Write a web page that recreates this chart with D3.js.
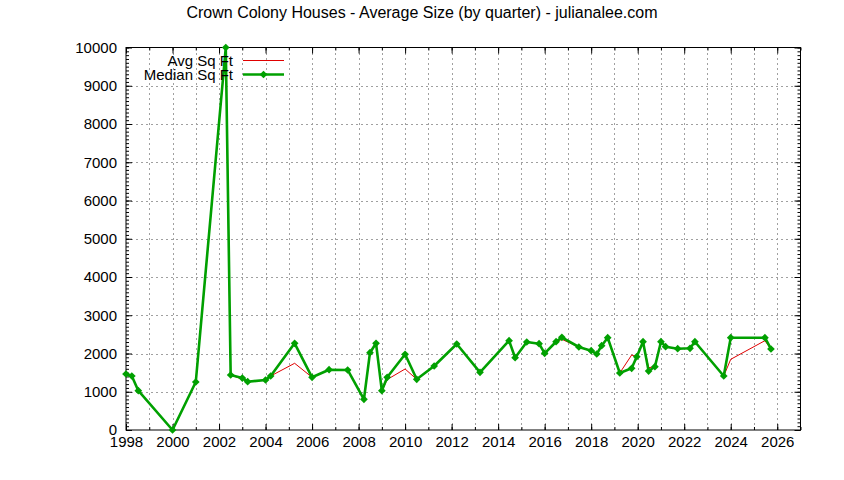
<!DOCTYPE html>
<html>
<head>
<meta charset="utf-8">
<script src="https://cdn.jsdelivr.net/npm/d3@7"></script>
<style>
    body { margin: 0; background: #fff; }
    svg { display: block; font-family: "Liberation Sans", Arial, sans-serif; }
</style>
</head>
<body>
<div id="chart"></div>
<script>
const quarters = [
    1998.0, 1998.25, 1998.53, 2000.0, 2001.0, 2002.29, 2002.5, 2003.0, 2003.23, 2004.0,
    2004.22, 2005.25, 2006.0, 2006.73, 2007.53, 2008.23, 2008.49, 2008.75, 2009.0, 2009.23,
    2010.0, 2010.5, 2011.25, 2012.22, 2013.22, 2014.47, 2014.73, 2015.23, 2015.76, 2016.0,
    2016.49, 2016.74, 2017.47, 2018.0, 2018.24, 2018.45, 2018.71, 2019.23, 2019.74, 2019.96,
    2020.23, 2020.47, 2020.74, 2021.0, 2021.2, 2021.72, 2022.25, 2022.46, 2023.7, 2024.0,
    2025.47, 2025.73
];
const medianSqft = [
    1464, 1412, 1027, 0, 1255, 10000, 1438, 1359, 1263, 1307,
    1412, 2267, 1378, 1576, 1569, 803, 2021, 2267, 1027, 1378,
    1979, 1325, 1673, 2248, 1508, 2335, 1890, 2301, 2256, 2005,
    2308, 2424, 2170, 2073, 1987, 2204, 2413, 1490, 1613, 1916,
    2308, 1542, 1655, 2308, 2178, 2125, 2136, 2308, 1412, 2413,
    2413, 2118
];
const avgSqft = [
    1464, 1412, 1027, 0, 1255, 10000, 1438, 1330, 1263, 1307,
    1412, 1744, 1378, 1576, 1569, 803, 2000, 2267, 1027, 1320,
    1595, 1325, 1660, 2248, 1508, 2335, 1890, 2301, 2256, 2005,
    2308, 2370, 2170, 2073, 1987, 2204, 2413, 1490, 1960, 1916,
    2308, 1629, 1655, 2308, 2178, 2125, 2136, 2308, 1412, 1848,
    2335, 2118
];
const xMajorTicks = [1998, 2000, 2002, 2004, 2006, 2008, 2010, 2012, 2014, 2016, 2018, 2020, 2022, 2024, 2026];
const xMinorTicks = d3.range(1998, 2028, 1);
const yMajorTicks = [0, 1000, 2000, 3000, 4000, 5000, 6000, 7000, 8000, 9000, 10000];
const yMinorTicks = d3.range(0, 10001, 100);

const width = 844, height = 480;
const margin = { top: 47.5, right: 43.5, bottom: 50, left: 126 };

const svg = d3.select("#chart").append("svg")
    .attr("width", width)
    .attr("height", height);

const x = d3.scaleLinear()
    .domain([1998, 2027])
    .range([margin.left, width - margin.right]);

const y = d3.scaleLinear()
    .domain([0, 10000])
    .range([height - margin.bottom, margin.top]);

// title
svg.append("text")
    .attr("x", width / 2)
    .attr("y", 18)
    .attr("text-anchor", "middle")
    .attr("font-size", "16px")
    .text("Crown Colony Houses - Average Size (by quarter) - julianalee.com");

// grid (vertical every year, horizontal every 1000)
const grid = svg.append("g")
    .attr("stroke", "#a0a0a0")
    .attr("stroke-width", 1)
    .attr("stroke-dasharray", "2,3");

grid.selectAll(".vg")
    .data(xMinorTicks.filter(d => d > 1998 && d < 2027))
    .enter().append("line")
    .attr("x1", d => Math.round(x(d)) + 0.5)
    .attr("x2", d => Math.round(x(d)) + 0.5)
    .attr("y1", y(0))
    .attr("y2", y(10000));

grid.selectAll(".hg")
    .data(yMajorTicks.filter(d => d > 0 && d < 10000))
    .enter().append("line")
    .attr("x1", x(1998))
    .attr("x2", x(2027))
    .attr("y1", d => Math.round(y(d)) + 0.5)
    .attr("y2", d => Math.round(y(d)) + 0.5);

// axes with inward ticks
function styleAxis(g) {
    g.selectAll(".domain").remove();
    g.selectAll("line").attr("stroke", "#000");
    g.selectAll("text").attr("font-size", "15px").attr("fill", "#000")
        .attr("font-family", "Liberation Sans, Arial, sans-serif");
}

svg.append("g")
    .attr("transform", `translate(0,${y(0)})`)
    .call(d3.axisBottom(x).tickValues(xMinorTicks).tickSize(-3).tickFormat(""))
    .call(styleAxis);
svg.append("g")
    .attr("transform", `translate(0,${y(0)})`)
    .call(d3.axisBottom(x).tickValues(xMajorTicks).tickSize(-6).tickPadding(6).tickFormat(d3.format("d")))
    .call(styleAxis);

svg.append("g")
    .attr("transform", `translate(0,${y(10000)})`)
    .call(d3.axisTop(x).tickValues(xMinorTicks).tickSize(-3).tickFormat(""))
    .call(styleAxis);
svg.append("g")
    .attr("transform", `translate(0,${y(10000)})`)
    .call(d3.axisTop(x).tickValues(xMajorTicks).tickSize(-6).tickFormat(""))
    .call(styleAxis);

svg.append("g")
    .attr("transform", `translate(${x(1998)},0)`)
    .call(d3.axisLeft(y).tickValues(yMinorTicks).tickSize(-3).tickFormat(""))
    .call(styleAxis);
svg.append("g")
    .attr("transform", `translate(${x(1998)},0)`)
    .call(d3.axisLeft(y).tickValues(yMajorTicks).tickSize(-6).tickPadding(9).tickFormat(d3.format("d")))
    .call(styleAxis);

svg.append("g")
    .attr("transform", `translate(${x(2027)},0)`)
    .call(d3.axisRight(y).tickValues(yMinorTicks).tickSize(-3).tickFormat(""))
    .call(styleAxis);
svg.append("g")
    .attr("transform", `translate(${x(2027)},0)`)
    .call(d3.axisRight(y).tickValues(yMajorTicks).tickSize(-6).tickFormat(""))
    .call(styleAxis);

// border
svg.append("rect")
    .attr("x", x(1998))
    .attr("y", y(10000))
    .attr("width", x(2027) - x(1998))
    .attr("height", y(0) - y(10000))
    .attr("fill", "none")
    .attr("stroke", "#000")
    .attr("stroke-width", 1);

const avgColor = "#e00000";
const medColor = "#00a000";

const avgData = quarters.map((q, i) => ({ q, v: avgSqft[i] }));
const medData = quarters.map((q, i) => ({ q, v: medianSqft[i] }));

const line = d3.line().x(d => x(d.q)).y(d => y(d.v));

svg.append("path")
    .datum(avgData)
    .attr("d", line)
    .attr("fill", "none")
    .attr("stroke", avgColor)
    .attr("stroke-width", 1);

svg.append("path")
    .datum(medData)
    .attr("d", line)
    .attr("fill", "none")
    .attr("stroke", medColor)
    .attr("stroke-width", 2.6)
    .attr("stroke-linejoin", "round");

const diamond = d3.symbol().type(d3.symbolDiamond2).size(38);

svg.selectAll(".pt")
    .data(medData)
    .enter().append("path")
    .attr("transform", d => `translate(${x(d.q)},${y(d.v)})`)
    .attr("d", diamond)
    .attr("fill", medColor);

// legend
const legend = svg.append("g");
const legendItems = [
    { label: "Avg Sq Ft", color: avgColor, w: 1, pt: false, yy: 60.5 },
    { label: "Median Sq Ft", color: medColor, w: 2.6, pt: true, yy: 74.5 }
];
legendItems.forEach(it => {
    legend.append("text")
        .attr("x", 233)
        .attr("y", it.yy)
        .attr("dy", "0.35em")
        .attr("text-anchor", "end")
        .attr("font-size", "15px")
        .text(it.label);
    legend.append("line")
        .attr("x1", 243).attr("x2", 284)
        .attr("y1", it.yy).attr("y2", it.yy)
        .attr("stroke", it.color)
        .attr("stroke-width", it.w);
    if (it.pt) {
        legend.append("path")
            .attr("transform", `translate(263.5,${it.yy})`)
            .attr("d", diamond)
            .attr("fill", it.color);
    }
});
</script>
</body>
</html>
